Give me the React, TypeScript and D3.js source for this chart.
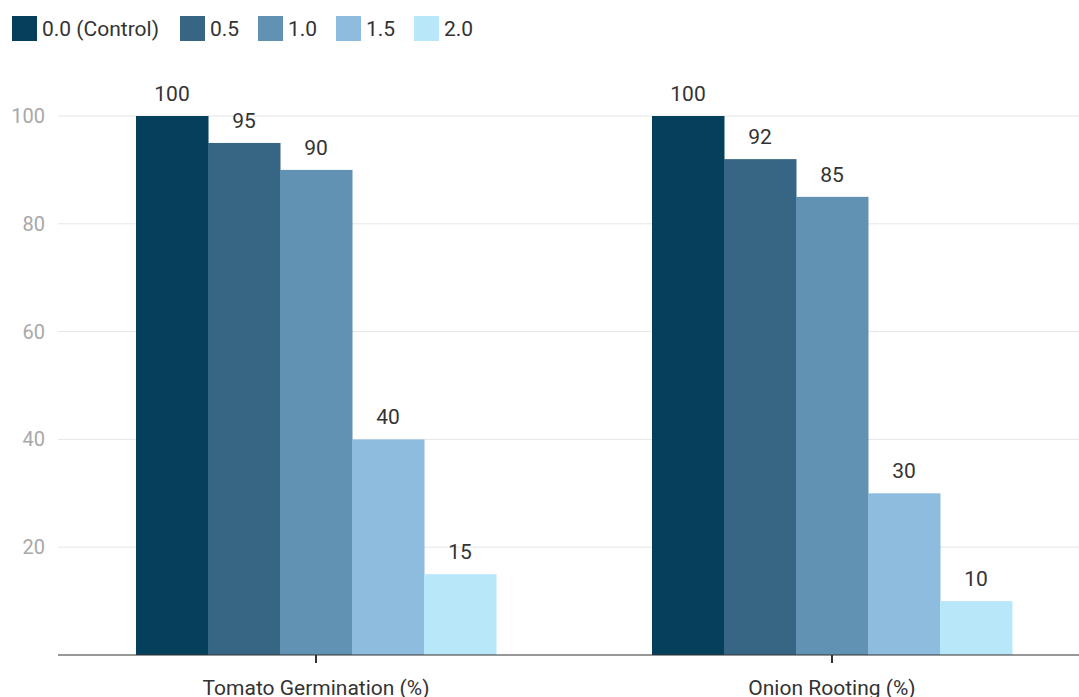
import React, { useEffect, useRef } from 'react';
import * as d3 from 'd3';

// ── Data ─────────────────────────────────────────────────────────────
const categories = ['Tomato Germination (%)', 'Onion Rooting (%)'];
const concentrations = ['0.0 (Control)', '0.5', '1.0', '1.5', '2.0'];
const tomatoValues = [100, 95, 90, 40, 15];
const onionValues = [100, 92, 85, 30, 10];
const yTicks = [20, 40, 60, 80, 100];
const palette = ['#04405b', '#376685', '#6192b3', '#8dbcde', '#b9e7fa'];

const W = 1079;
const H = 697;

const App = () => {
  const svgRef = useRef<SVGSVGElement | null>(null);

  useEffect(() => {
    const svg = d3.select(svgRef.current);
    svg.selectAll('*').remove();

    const font = 'Roboto, "Noto Sans", sans-serif';
    const left = 58;
    const right = 1090;
    const baseline = 655;
    const top = 116;

    const rows = categories.map((c, i) => ({
      category: c,
      values: i === 0 ? tomatoValues : onionValues,
    }));

    const x0 = d3.scaleBand<string>()
      .domain(categories)
      .range([left, right])
      .paddingInner(0.3023)
      .paddingOuter(0.1512);

    const x1 = d3.scaleBand<string>()
      .domain(concentrations)
      .range([0, x0.bandwidth()]);

    const y = d3.scaleLinear().domain([0, 100]).range([baseline, top]);

    const color = d3.scaleOrdinal<string, string>().domain(concentrations).range(palette);

    // ── Grid & y labels ───────────────────────────────────────────────
    const grid = svg.append('g');
    grid.selectAll('line')
      .data(yTicks)
      .join('line')
      .attr('x1', left)
      .attr('x2', W)
      .attr('y1', (d) => y(d))
      .attr('y2', (d) => y(d))
      .attr('stroke', '#e6e6e6')
      .attr('stroke-width', 1);

    grid.selectAll('text')
      .data(yTicks)
      .join('text')
      .attr('x', 45)
      .attr('y', (d) => y(d))
      .attr('dy', '0.35em')
      .attr('text-anchor', 'end')
      .attr('fill', '#a8a8a8')
      .style('font', `20px ${font}`)
      .text((d) => d);

    // ── Bars ───────────────────────────────────────────────────────────
    const groups = svg.append('g')
      .selectAll('g')
      .data(rows)
      .join('g')
      .attr('transform', (d) => `translate(${x0(d.category)},0)`);

    groups.selectAll('rect')
      .data((d) => d.values.map((v, i) => ({ key: concentrations[i], value: v })))
      .join('rect')
      .attr('x', (d) => x1(d.key)!)
      .attr('width', x1.bandwidth() + 0.5)
      .attr('y', (d) => y(d.value))
      .attr('height', (d) => baseline - y(d.value))
      .attr('fill', (d) => color(d.key));

    groups.selectAll('text')
      .data((d) => d.values.map((v, i) => ({ key: concentrations[i], value: v })))
      .join('text')
      .attr('x', (d) => x1(d.key)! + x1.bandwidth() / 2)
      .attr('y', (d) => y(d.value) - 15)
      .attr('text-anchor', 'middle')
      .attr('fill', '#333')
      .style('font', `21px ${font}`)
      .text((d) => d.value);

    // ── X axis ─────────────────────────────────────────────────────────
    const axis = svg.append('g');
    axis.append('line')
      .attr('x1', left)
      .attr('x2', W)
      .attr('y1', baseline)
      .attr('y2', baseline)
      .attr('stroke', '#333')
      .attr('stroke-width', 1.2);

    axis.selectAll('line.tick')
      .data(categories)
      .join('line')
      .attr('class', 'tick')
      .attr('x1', (d) => x0(d)! + x0.bandwidth() / 2)
      .attr('x2', (d) => x0(d)! + x0.bandwidth() / 2)
      .attr('y1', baseline)
      .attr('y2', baseline + 8)
      .attr('stroke', '#333')
      .attr('stroke-width', 2);

    axis.selectAll('text')
      .data(categories)
      .join('text')
      .attr('x', (d) => x0(d)! + x0.bandwidth() / 2)
      .attr('y', 695)
      .attr('text-anchor', 'middle')
      .attr('fill', '#333')
      .style('font', `21px ${font}`)
      .text((d) => d);

    // ── Legend ────────────────────────────────────────────────────────
    const legendX = [12, 180, 258, 336, 414];
    const legend = svg.append('g')
      .selectAll('g')
      .data(concentrations)
      .join('g')
      .attr('transform', (d, i) => `translate(${legendX[i]},16)`);

    legend.append('rect')
      .attr('width', 25)
      .attr('height', 25)
      .attr('fill', (d) => color(d));

    legend.append('text')
      .attr('x', 30)
      .attr('y', 12.5)
      .attr('dy', '0.35em')
      .attr('fill', '#333')
      .style('font', `21px ${font}`)
      .text((d) => d);
  }, []);

  return (
    <svg
      ref={svgRef}
      width={W}
      height={H}
      style={{ position: 'absolute', left: 0, top: 0, background: '#fff' }}
    />
  );
};

export default App;
